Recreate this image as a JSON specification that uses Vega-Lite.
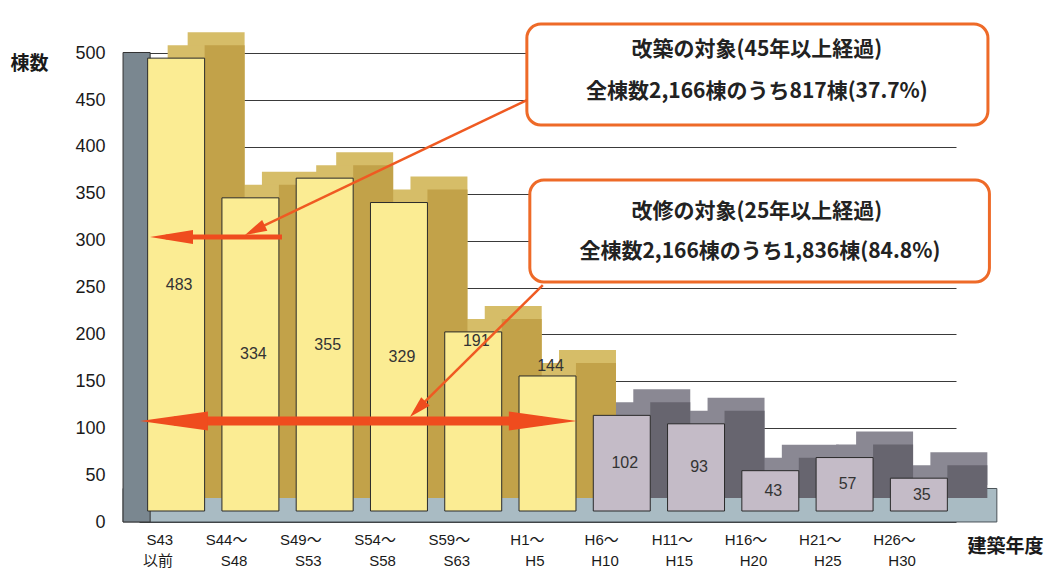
{
  "$schema": "https://vega.github.io/schema/vega-lite/v6.json",
  "width": 817,
  "height": 511,
  "autosize": "none",
  "padding": {"left": 139, "top": 0, "right": 96, "bottom": 62},
  "background": "#ffffff",
  "config": {"view": {"stroke": null}},
  "datasets": {
    "bars": [
      {"period": "S43以前", "value": 483, "group": "a"},
      {"period": "S44～S48", "value": 334, "group": "a"},
      {"period": "S49～S53", "value": 355, "group": "a"},
      {"period": "S54～S58", "value": 329, "group": "a"},
      {"period": "S59～S63", "value": 191, "group": "a"},
      {"period": "H1～H5", "value": 144, "group": "a"},
      {"period": "H6～H10", "value": 102, "group": "b"},
      {"period": "H11～H15", "value": 93, "group": "b"},
      {"period": "H16～H20", "value": 43, "group": "b"},
      {"period": "H21～H25", "value": 57, "group": "b"},
      {"period": "H26～H30", "value": 35, "group": "b"}
    ],
    "boxes": [
      {"x1": 5.222, "x2": 11.43, "y1": 519.4, "y2": 411.7},
      {"x1": 5.262, "x2": 11.45, "y1": 353.0, "y2": 244.2}
    ],
    "notes": [
      {"u": 8.32, "v": 491.7, "text": "改築の対象(45年以上経過)"},
      {"u": 8.32, "v": 446.9, "text": "全棟数2,166棟のうち817棟(37.7%)"},
      {"u": 8.32, "v": 318.9, "text": "改修の対象(25年以上経過)"},
      {"u": 8.36, "v": 276.2, "text": "全棟数2,166棟のうち1,836棟(84.8%)"}
    ],
    "hshafts": [
      {"id": "a1", "a": 0.36, "b": 1.925, "v": 292.2},
      {"id": "a2", "a": 0.47, "b": 5.43, "v": 96.0}
    ],
    "dshafts": [
      {"a": 5.222, "va": 438.3, "b": 1.5, "vb": 297.5},
      {"a": 5.437, "va": 241.0, "b": 3.7, "vb": 105.0}
    ],
    "heads": [
      {"u": 0.148, "v": 292.2, "dir": "left", "kind": "mid"},
      {"u": 1.427, "v": 294.4, "dir": "dl1", "kind": "small"},
      {"u": 0.013, "v": 96.0, "dir": "left", "kind": "big"},
      {"u": 5.895, "v": 96.0, "dir": "right", "kind": "big"},
      {"u": 3.647, "v": 100.3, "dir": "dl2", "kind": "small"}
    ]
  },
  "resolve": {"scale": {"x": "independent"}, "axis": {"x": "independent"}},
  "layer": [
    {
      "data": {"values": [{}]},
      "layer": [
        {
          "mark": {"type": "rect", "fill": "#a9bbc3", "stroke": "#4a5258", "strokeWidth": 1},
          "encoding": {
            "x": {"datum": -0.215, "type": "quantitative", "scale": {"domain": [0, 11], "nice": false, "zero": false}, "axis": null},
            "x2": {"datum": 11.55},
            "y": {"datum": -11.7, "type": "quantitative"},
            "y2": {"datum": 24}
          }
        },
        {
          "mark": {"type": "rect", "fill": "#7a8790", "stroke": "#333333", "strokeWidth": 1},
          "encoding": {
            "x": {"datum": -0.215, "type": "quantitative", "axis": null},
            "x2": {"datum": 0.15},
            "y": {"datum": -11.7, "type": "quantitative"},
            "y2": {"datum": 489}
          }
        }
      ]
    },
    {
      "data": {"name": "bars"},
      "layer": [
        {
          "mark": {"type": "bar", "xOffset": 40, "x2Offset": 40, "yOffset": -26, "y2Offset": -26},
          "encoding": {
            "x": {"field": "period", "type": "nominal", "sort": null},
            "y": {"field": "value", "type": "quantitative"},
            "fill": {"condition": {"test": "datum.group == 'a'", "value": "#d6bd68"}, "value": "#8a8893"}
          }
        },
        {
          "mark": {"type": "bar", "xOffset": 20, "x2Offset": 20, "yOffset": -13, "y2Offset": -13},
          "encoding": {
            "x": {"field": "period", "type": "nominal", "sort": null},
            "y": {"field": "value", "type": "quantitative"},
            "fill": {"condition": {"test": "datum.group == 'a'", "value": "#d6bd68"}, "value": "#8a8893"}
          }
        },
        {
          "mark": {"type": "rule", "strokeWidth": 40, "xOffset": 20, "yOffset": -13, "y2Offset": -13, "strokeCap": "butt"},
          "encoding": {
            "x": {"field": "period", "type": "nominal", "sort": null, "bandPosition": 1},
            "y": {"field": "value", "type": "quantitative"},
            "y2": {"datum": 0},
            "stroke": {"condition": {"test": "datum.group == 'a'", "value": "#c2a249"}, "value": "#67656f"}
          }
        },
        {
          "mark": {"type": "bar", "stroke": "#2a2a2a", "strokeWidth": 1},
          "encoding": {
            "x": {
              "field": "period", "type": "nominal", "sort": null,
              "scale": {"paddingInner": 0.233, "paddingOuter": 0.1165},
              "axis": {
                "title": "建築年度",
                "labelAngle": 0,
                "labelExpr": "indexof(datum.label, '～') > 0 ? [slice(datum.label, 0, indexof(datum.label, '～') + 1), slice(datum.label, indexof(datum.label, '～') + 1)] : [slice(datum.label, 0, 3), slice(datum.label, 3)]",
                "labelOffset": -3,
                "labelPadding": 28,
                "ticks": false,
                "domain": false,
                "labelFont": "Liberation Sans Narrow, Liberation Sans, Noto Sans CJK JP",
                "labelFontSize": 15,
                "labelLineHeight": 21,
                "labelColor": "#1a1a1a",
                "titleX": 866,
                "titleY": 35,
                "titleAlign": "center",
                "titleBaseline": "middle",
                "titleFont": "Noto Sans CJK JP",
                "titleFontSize": 19,
                "titleFontWeight": "bold",
                "titleColor": "#1a1a1a"
              }
            },
            "y": {
              "field": "value", "type": "quantitative",
              "scale": {"domain": [0, 545], "nice": false},
              "axis": {
                "values": [0, 50, 100, 150, 200, 250, 300, 350, 400, 450, 500],
                "tickOffset": 11,
                "grid": true,
                "gridColor": "#3a3a3a",
                "gridWidth": 1,
                "domain": false,
                "ticks": false,
                "labelPadding": 34,
                "labelFont": "Liberation Sans",
                "labelFontSize": 18,
                "labelColor": "#1a1a1a",
                "title": "棟数",
                "titleAngle": 0,
                "titleX": -110,
                "titleY": 63,
                "titleAlign": "center",
                "titleBaseline": "middle",
                "titleFont": "Noto Sans CJK JP",
                "titleFontSize": 19,
                "titleFontWeight": "bold",
                "titleColor": "#1a1a1a"
              }
            },
            "fill": {"condition": {"test": "datum.group == 'a'", "value": "#fbec93"}, "value": "#c4bbc7"}
          }
        },
        {
          "transform": [
            {"calculate": "datum.period == 'S59～S63' ? datum.value - 10 : (datum.period == 'H1～H5' ? datum.value + 11 : datum.value / 2)", "as": "labelY"}
          ],
          "mark": {"type": "text", "font": "Liberation Sans", "fontSize": 16, "color": "#333333", "xOffset": 3, "baseline": "middle"},
          "encoding": {
            "x": {"field": "period", "type": "nominal", "sort": null},
            "y": {"field": "labelY", "type": "quantitative"},
            "text": {"field": "value", "type": "quantitative"}
          }
        }
      ]
    },
    {
      "layer": [
        {
          "data": {"name": "boxes"},
          "mark": {"type": "rect", "cornerRadius": 14, "fill": "#ffffff", "stroke": "#ee6a28", "strokeWidth": 3},
          "encoding": {
            "x": {"field": "x1", "type": "quantitative", "scale": {"domain": [0, 11], "nice": false, "zero": false}, "axis": null},
            "x2": {"field": "x2"},
            "y": {"field": "y1", "type": "quantitative"},
            "y2": {"field": "y2"}
          }
        },
        {
          "data": {"name": "notes"},
          "mark": {"type": "text", "font": "Noto Sans CJK JP", "fontSize": 21, "fontWeight": "bold", "color": "#222222", "baseline": "middle", "align": "center"},
          "encoding": {
            "x": {"field": "u", "type": "quantitative", "axis": null},
            "y": {"field": "v", "type": "quantitative"},
            "text": {"field": "text", "type": "nominal"}
          }
        },
        {
          "data": {"name": "hshafts"},
          "mark": {"type": "rule", "color": "#ef4c1e", "strokeCap": "butt"},
          "encoding": {
            "x": {"field": "a", "type": "quantitative", "axis": null},
            "x2": {"field": "b"},
            "y": {"field": "v", "type": "quantitative"},
            "strokeWidth": {"condition": {"test": "datum.id == 'a1'", "value": 5}, "value": 9}
          }
        },
        {
          "data": {"name": "dshafts"},
          "mark": {"type": "rule", "color": "#ef5a22", "strokeWidth": 2.5, "strokeCap": "butt"},
          "encoding": {
            "x": {"field": "a", "type": "quantitative", "axis": null},
            "x2": {"field": "b"},
            "y": {"field": "va", "type": "quantitative"},
            "y2": {"field": "vb"}
          }
        },
        {
          "data": {"name": "heads"},
          "mark": {"type": "point", "filled": true, "opacity": 1, "size": 400, "color": "#ef4c1e", "strokeWidth": 0},
          "encoding": {
            "x": {"field": "u", "type": "quantitative", "axis": null},
            "y": {"field": "v", "type": "quantitative"},
            "shape": {
              "field": "kind", "type": "nominal", "legend": null,
              "scale": {"domain": ["big", "mid", "small"], "range": ["M0,0L0.95,6.8L-0.95,6.8Z", "M0,0L0.7,4.3L-0.7,4.3Z", "M0,0L0.6,2.2L-0.6,2.2Z"]}
            },
            "angle": {
              "condition": [
                {"test": "datum.dir == 'left'", "value": 270},
                {"test": "datum.dir == 'right'", "value": 90},
                {"test": "datum.dir == 'dl1'", "value": 244}
              ],
              "value": 225
            }
          }
        }
      ]
    }
  ]
}
